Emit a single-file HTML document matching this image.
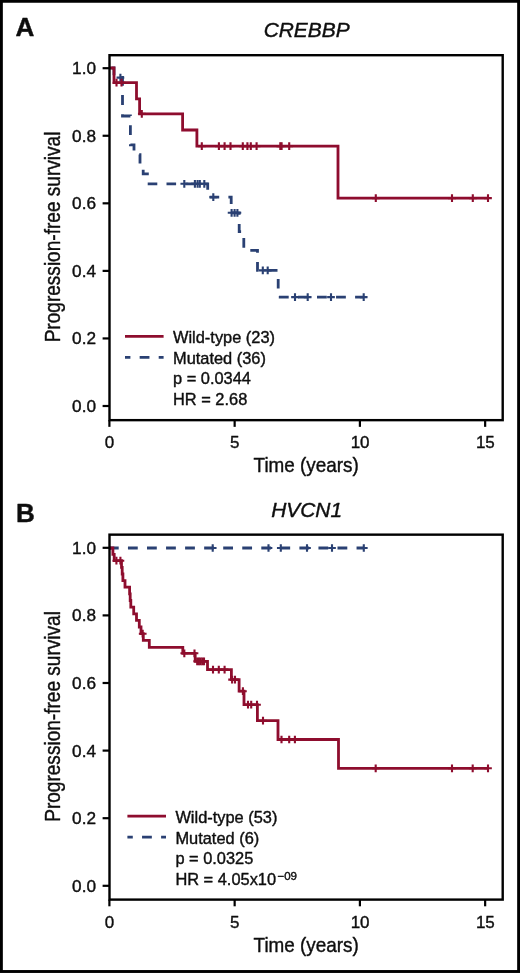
<!DOCTYPE html>
<html><head><meta charset="utf-8"><title>Figure</title>
<style>
html,body{margin:0;padding:0;background:#fff;}
body{width:520px;height:973px;overflow:hidden;}
svg{display:block;will-change:transform;}
text{font-family:"Liberation Sans",sans-serif;fill:#0d0d0d;stroke:#0d0d0d;stroke-width:0.4px;stroke-linejoin:round;}
</style></head><body>
<svg width="520" height="973" viewBox="0 0 520 973">
<defs><filter id="soft" x="0" y="0" width="520" height="973" filterUnits="userSpaceOnUse"><feGaussianBlur stdDeviation="0.38"/></filter></defs>
<rect x="0" y="0" width="520" height="973" fill="#fff"/>
<g filter="url(#soft)">
<text transform="translate(60,237.00) rotate(-90) scale(0.895,1)" text-anchor="middle" font-size="21.3">Progression-free survival</text>
<text transform="translate(306.2,472.10) scale(0.90,1)" text-anchor="middle" font-size="21">Time (years)</text>
<text transform="translate(306.6,37.40) scale(1.078,1)" text-anchor="middle" font-style="italic" font-size="19.4">CREBBP</text>
<text x="15.5" y="36.40" font-weight="bold" font-size="26.1">A</text>
<path d="M102.6,68.20H109.5" stroke="#000" stroke-width="2.2"/>
<text x="96" y="74.10" text-anchor="end" font-size="17.2">1.0</text>
<path d="M102.6,135.76H109.5" stroke="#000" stroke-width="2.2"/>
<text x="96" y="141.66" text-anchor="end" font-size="17.2">0.8</text>
<path d="M102.6,203.32H109.5" stroke="#000" stroke-width="2.2"/>
<text x="96" y="209.22" text-anchor="end" font-size="17.2">0.6</text>
<path d="M102.6,270.88H109.5" stroke="#000" stroke-width="2.2"/>
<text x="96" y="276.78" text-anchor="end" font-size="17.2">0.4</text>
<path d="M102.6,338.44H109.5" stroke="#000" stroke-width="2.2"/>
<text x="96" y="344.34" text-anchor="end" font-size="17.2">0.2</text>
<path d="M102.6,406.00H109.5" stroke="#000" stroke-width="2.2"/>
<text x="96" y="411.90" text-anchor="end" font-size="17.2">0.0</text>
<path d="M109.40,420.15V426.85" stroke="#000" stroke-width="2.2"/>
<text x="109.60" y="448.30" text-anchor="middle" font-size="17">0</text>
<path d="M234.65,420.15V426.85" stroke="#000" stroke-width="2.2"/>
<text x="234.85" y="448.30" text-anchor="middle" font-size="17">5</text>
<path d="M359.90,420.15V426.85" stroke="#000" stroke-width="2.2"/>
<text x="360.10" y="448.30" text-anchor="middle" font-size="17">10</text>
<path d="M485.15,420.15V426.85" stroke="#000" stroke-width="2.2"/>
<text x="485.35" y="448.30" text-anchor="middle" font-size="17">15</text>
<path d="M109.3,68H114V77.4H122.5V116H130.4V144.9H134V154.6H140V164.2H143.2V173.9H147.4V183.8H147.7" stroke="#2a4173" stroke-width="2.8" fill="none" stroke-dasharray="9.8 9.25" stroke-dashoffset="-2.2"/>
<path d="M147.7,183.8H207.7V197.1H231.2V212.8H239.2V231.6H243.8V250.4H257.5V270.4H278.2V297.1H278.9" stroke="#2a4173" stroke-width="2.8" fill="none" stroke-dasharray="9.6 9.2" stroke-dashoffset="0"/>
<path d="M278.9,297.1H363.7" stroke="#2a4173" stroke-width="2.8" fill="none" stroke-dasharray="9.8 9.25" stroke-dashoffset="0"/>
<path d="M116.55,77.60H124.25M120.40,73.75V81.45" stroke="#2a4173" stroke-width="2.1" fill="none"/>
<path d="M180.45,183.80H188.15M184.30,179.95V187.65" stroke="#2a4173" stroke-width="2.1" fill="none"/>
<path d="M191.05,183.80H198.75M194.90,179.95V187.65" stroke="#2a4173" stroke-width="2.1" fill="none"/>
<path d="M193.75,183.80H201.45M197.60,179.95V187.65" stroke="#2a4173" stroke-width="2.1" fill="none"/>
<path d="M195.95,183.80H203.65M199.80,179.95V187.65" stroke="#2a4173" stroke-width="2.1" fill="none"/>
<path d="M200.45,183.80H208.15M204.30,179.95V187.65" stroke="#2a4173" stroke-width="2.1" fill="none"/>
<path d="M209.45,197.10H217.15M213.30,193.25V200.95" stroke="#2a4173" stroke-width="2.1" fill="none"/>
<path d="M227.75,212.80H235.45M231.60,208.95V216.65" stroke="#2a4173" stroke-width="2.1" fill="none"/>
<path d="M230.75,212.80H238.45M234.60,208.95V216.65" stroke="#2a4173" stroke-width="2.1" fill="none"/>
<path d="M233.55,212.80H241.25M237.40,208.95V216.65" stroke="#2a4173" stroke-width="2.1" fill="none"/>
<path d="M258.95,270.40H266.65M262.80,266.55V274.25" stroke="#2a4173" stroke-width="2.1" fill="none"/>
<path d="M263.85,270.40H271.55M267.70,266.55V274.25" stroke="#2a4173" stroke-width="2.1" fill="none"/>
<path d="M291.15,297.10H298.85M295.00,293.25V300.95" stroke="#2a4173" stroke-width="2.1" fill="none"/>
<path d="M303.85,297.10H311.55M307.70,293.25V300.95" stroke="#2a4173" stroke-width="2.1" fill="none"/>
<path d="M327.15,297.10H334.85M331.00,293.25V300.95" stroke="#2a4173" stroke-width="2.1" fill="none"/>
<path d="M359.85,297.10H367.55M363.70,293.25V300.95" stroke="#2a4173" stroke-width="2.1" fill="none"/>
<path d="M109.3,68H114V82.7H136.5V98.8H139.6V113.8H182.6V130H196.9V146.1H338V198.1H488" stroke="#8e0c2d" stroke-width="2.8" fill="none" stroke-linejoin="miter"/>
<path d="M112.65,82.70H120.35M116.50,78.85V86.55" stroke="#8e0c2d" stroke-width="2.1" fill="none"/>
<path d="M117.65,82.70H125.35M121.50,78.85V86.55" stroke="#8e0c2d" stroke-width="2.1" fill="none"/>
<path d="M137.95,113.80H145.65M141.80,109.95V117.65" stroke="#8e0c2d" stroke-width="2.1" fill="none"/>
<path d="M197.95,146.10H205.65M201.80,142.25V149.95" stroke="#8e0c2d" stroke-width="2.1" fill="none"/>
<path d="M215.05,146.10H222.75M218.90,142.25V149.95" stroke="#8e0c2d" stroke-width="2.1" fill="none"/>
<path d="M220.75,146.10H228.45M224.60,142.25V149.95" stroke="#8e0c2d" stroke-width="2.1" fill="none"/>
<path d="M226.65,146.10H234.35M230.50,142.25V149.95" stroke="#8e0c2d" stroke-width="2.1" fill="none"/>
<path d="M238.95,146.10H246.65M242.80,142.25V149.95" stroke="#8e0c2d" stroke-width="2.1" fill="none"/>
<path d="M243.55,146.10H251.25M247.40,142.25V149.95" stroke="#8e0c2d" stroke-width="2.1" fill="none"/>
<path d="M246.95,146.10H254.65M250.80,142.25V149.95" stroke="#8e0c2d" stroke-width="2.1" fill="none"/>
<path d="M252.75,146.10H260.45M256.60,142.25V149.95" stroke="#8e0c2d" stroke-width="2.1" fill="none"/>
<path d="M276.45,146.10H284.15M280.30,142.25V149.95" stroke="#8e0c2d" stroke-width="2.1" fill="none"/>
<path d="M277.75,146.10H285.45M281.60,142.25V149.95" stroke="#8e0c2d" stroke-width="2.1" fill="none"/>
<path d="M285.35,146.10H293.05M289.20,142.25V149.95" stroke="#8e0c2d" stroke-width="2.1" fill="none"/>
<path d="M371.95,198.10H379.65M375.80,194.25V201.95" stroke="#8e0c2d" stroke-width="2.1" fill="none"/>
<path d="M448.15,198.10H455.85M452.00,194.25V201.95" stroke="#8e0c2d" stroke-width="2.1" fill="none"/>
<path d="M468.95,198.10H476.65M472.80,194.25V201.95" stroke="#8e0c2d" stroke-width="2.1" fill="none"/>
<path d="M484.15,198.10H491.85M488.00,194.25V201.95" stroke="#8e0c2d" stroke-width="2.1" fill="none"/>
<rect x="109.5" y="55.2" width="393.20" height="364.95" fill="none" stroke="#000" stroke-width="2.4"/>
<path d="M125.00,336.30H163.60" stroke="#8e0c2d" stroke-width="2.8"/>
<path d="M125.00,357.30H163.60" stroke="#2a4173" stroke-width="2.8" stroke-dasharray="9.8 9.25" stroke-dashoffset="4.4"/>
<text x="173.00" y="342.90" font-size="16.4">Wild-type (23)</text>
<text x="173.00" y="363.65" font-size="16.4">Mutated (36)</text>
<text x="173.00" y="384.40" font-size="16.4">p = 0.0344</text>
<text x="173.00" y="405.15" font-size="16.4">HR = 2.68</text>
<text transform="translate(60,716.45) rotate(-90) scale(0.895,1)" text-anchor="middle" font-size="21.3">Progression-free survival</text>
<text transform="translate(306.2,951.75) scale(0.90,1)" text-anchor="middle" font-size="21">Time (years)</text>
<text transform="translate(306.6,516.60) scale(1.078,1)" text-anchor="middle" font-style="italic" font-size="19.4">HVCN1</text>
<text x="16.1" y="521.90" font-weight="bold" font-size="26.1">B</text>
<path d="M102.6,547.80H109.5" stroke="#000" stroke-width="2.2"/>
<text x="96" y="553.70" text-anchor="end" font-size="17.2">1.0</text>
<path d="M102.6,615.40H109.5" stroke="#000" stroke-width="2.2"/>
<text x="96" y="621.30" text-anchor="end" font-size="17.2">0.8</text>
<path d="M102.6,683.00H109.5" stroke="#000" stroke-width="2.2"/>
<text x="96" y="688.90" text-anchor="end" font-size="17.2">0.6</text>
<path d="M102.6,750.60H109.5" stroke="#000" stroke-width="2.2"/>
<text x="96" y="756.50" text-anchor="end" font-size="17.2">0.4</text>
<path d="M102.6,818.20H109.5" stroke="#000" stroke-width="2.2"/>
<text x="96" y="824.10" text-anchor="end" font-size="17.2">0.2</text>
<path d="M102.6,885.80H109.5" stroke="#000" stroke-width="2.2"/>
<text x="96" y="891.70" text-anchor="end" font-size="17.2">0.0</text>
<path d="M109.40,899.5999999999999V906.30" stroke="#000" stroke-width="2.2"/>
<text x="109.60" y="928.20" text-anchor="middle" font-size="17">0</text>
<path d="M234.65,899.5999999999999V906.30" stroke="#000" stroke-width="2.2"/>
<text x="234.85" y="928.20" text-anchor="middle" font-size="17">5</text>
<path d="M359.90,899.5999999999999V906.30" stroke="#000" stroke-width="2.2"/>
<text x="360.10" y="928.20" text-anchor="middle" font-size="17">10</text>
<path d="M485.15,899.5999999999999V906.30" stroke="#000" stroke-width="2.2"/>
<text x="485.35" y="928.20" text-anchor="middle" font-size="17">15</text>
<path d="M109.3,548H363.8" stroke="#2a4173" stroke-width="2.8" fill="none" stroke-dasharray="9.8 9.25" stroke-dashoffset="0.4"/>
<path d="M208.85,548.00H216.55M212.70,544.15V551.85" stroke="#2a4173" stroke-width="2.1" fill="none"/>
<path d="M264.65,548.00H272.35M268.50,544.15V551.85" stroke="#2a4173" stroke-width="2.1" fill="none"/>
<path d="M276.95,548.00H284.65M280.80,544.15V551.85" stroke="#2a4173" stroke-width="2.1" fill="none"/>
<path d="M303.15,548.00H310.85M307.00,544.15V551.85" stroke="#2a4173" stroke-width="2.1" fill="none"/>
<path d="M328.15,548.00H335.85M332.00,544.15V551.85" stroke="#2a4173" stroke-width="2.1" fill="none"/>
<path d="M359.95,548.00H367.65M363.80,544.15V551.85" stroke="#2a4173" stroke-width="2.1" fill="none"/>
<path d="M109.3,548H112.9V554.4H114.2V560.7H121.5V567.4H122.2V574H122.9V580.6H125V587.2H129.6V593.9H130.2V600.5H130.8V607.1H133.7V613.8H136.5V620.4H139.3V627H141V633.7H143.3V640.4H149.3V647.3H182.8V653.3H195.2V661.3H207.5V669.6H231.4V679.6H239.1V691.2H244V704.7H257.4V720.7H278V739.5H338.5V768.3H488" stroke="#8e0c2d" stroke-width="2.8" fill="none" stroke-linejoin="miter"/>
<path d="M112.55,560.70H120.25M116.40,556.85V564.55" stroke="#8e0c2d" stroke-width="2.1" fill="none"/>
<path d="M116.55,560.70H124.25M120.40,556.85V564.55" stroke="#8e0c2d" stroke-width="2.1" fill="none"/>
<path d="M138.85,633.70H146.55M142.70,629.85V637.55" stroke="#8e0c2d" stroke-width="2.1" fill="none"/>
<path d="M180.45,653.30H188.15M184.30,649.45V657.15" stroke="#8e0c2d" stroke-width="2.1" fill="none"/>
<path d="M190.65,653.30H198.35M194.50,649.45V657.15" stroke="#8e0c2d" stroke-width="2.1" fill="none"/>
<path d="M193.35,661.30H201.05M197.20,657.45V665.15" stroke="#8e0c2d" stroke-width="2.1" fill="none"/>
<path d="M195.05,661.30H202.75M198.90,657.45V665.15" stroke="#8e0c2d" stroke-width="2.1" fill="none"/>
<path d="M196.75,661.30H204.45M200.60,657.45V665.15" stroke="#8e0c2d" stroke-width="2.1" fill="none"/>
<path d="M198.45,661.30H206.15M202.30,657.45V665.15" stroke="#8e0c2d" stroke-width="2.1" fill="none"/>
<path d="M200.15,661.30H207.85M204.00,657.45V665.15" stroke="#8e0c2d" stroke-width="2.1" fill="none"/>
<path d="M209.15,669.60H216.85M213.00,665.75V673.45" stroke="#8e0c2d" stroke-width="2.1" fill="none"/>
<path d="M214.95,669.60H222.65M218.80,665.75V673.45" stroke="#8e0c2d" stroke-width="2.1" fill="none"/>
<path d="M220.75,669.60H228.45M224.60,665.75V673.45" stroke="#8e0c2d" stroke-width="2.1" fill="none"/>
<path d="M228.25,679.60H235.95M232.10,675.75V683.45" stroke="#8e0c2d" stroke-width="2.1" fill="none"/>
<path d="M231.15,679.60H238.85M235.00,675.75V683.45" stroke="#8e0c2d" stroke-width="2.1" fill="none"/>
<path d="M239.05,691.20H246.75M242.90,687.35V695.05" stroke="#8e0c2d" stroke-width="2.1" fill="none"/>
<path d="M244.15,704.70H251.85M248.00,700.85V708.55" stroke="#8e0c2d" stroke-width="2.1" fill="none"/>
<path d="M247.35,704.70H255.05M251.20,700.85V708.55" stroke="#8e0c2d" stroke-width="2.1" fill="none"/>
<path d="M253.15,704.70H260.85M257.00,700.85V708.55" stroke="#8e0c2d" stroke-width="2.1" fill="none"/>
<path d="M259.15,720.70H266.85M263.00,716.85V724.55" stroke="#8e0c2d" stroke-width="2.1" fill="none"/>
<path d="M277.65,739.50H285.35M281.50,735.65V743.35" stroke="#8e0c2d" stroke-width="2.1" fill="none"/>
<path d="M285.35,739.50H293.05M289.20,735.65V743.35" stroke="#8e0c2d" stroke-width="2.1" fill="none"/>
<path d="M291.05,739.50H298.75M294.90,735.65V743.35" stroke="#8e0c2d" stroke-width="2.1" fill="none"/>
<path d="M371.85,768.30H379.55M375.70,764.45V772.15" stroke="#8e0c2d" stroke-width="2.1" fill="none"/>
<path d="M448.15,768.30H455.85M452.00,764.45V772.15" stroke="#8e0c2d" stroke-width="2.1" fill="none"/>
<path d="M468.85,768.30H476.55M472.70,764.45V772.15" stroke="#8e0c2d" stroke-width="2.1" fill="none"/>
<path d="M484.15,768.30H491.85M488.00,764.45V772.15" stroke="#8e0c2d" stroke-width="2.1" fill="none"/>
<rect x="109.5" y="534.65" width="393.20" height="364.95" fill="none" stroke="#000" stroke-width="2.4"/>
<path d="M127.40,816.20H166.00" stroke="#8e0c2d" stroke-width="2.8"/>
<path d="M127.40,837.20H166.00" stroke="#2a4173" stroke-width="2.8" stroke-dasharray="9.8 9.25" stroke-dashoffset="4.4"/>
<text x="175.40" y="822.80" font-size="16.4">Wild-type (53)</text>
<text x="175.40" y="843.55" font-size="16.4">Mutated (6)</text>
<text x="175.40" y="864.30" font-size="16.4">p = 0.0325</text>
<text x="175.40" y="885.05" font-size="16.4">HR = 4.05x10<tspan font-size="11.5" dx="1.4" dy="-5.5">&#8722;09</tspan></text>
<rect x="1.4" y="1.3" width="517.2" height="970.2" fill="none" stroke="#000" stroke-width="2.9"/>
</g>
</svg>
</body></html>
